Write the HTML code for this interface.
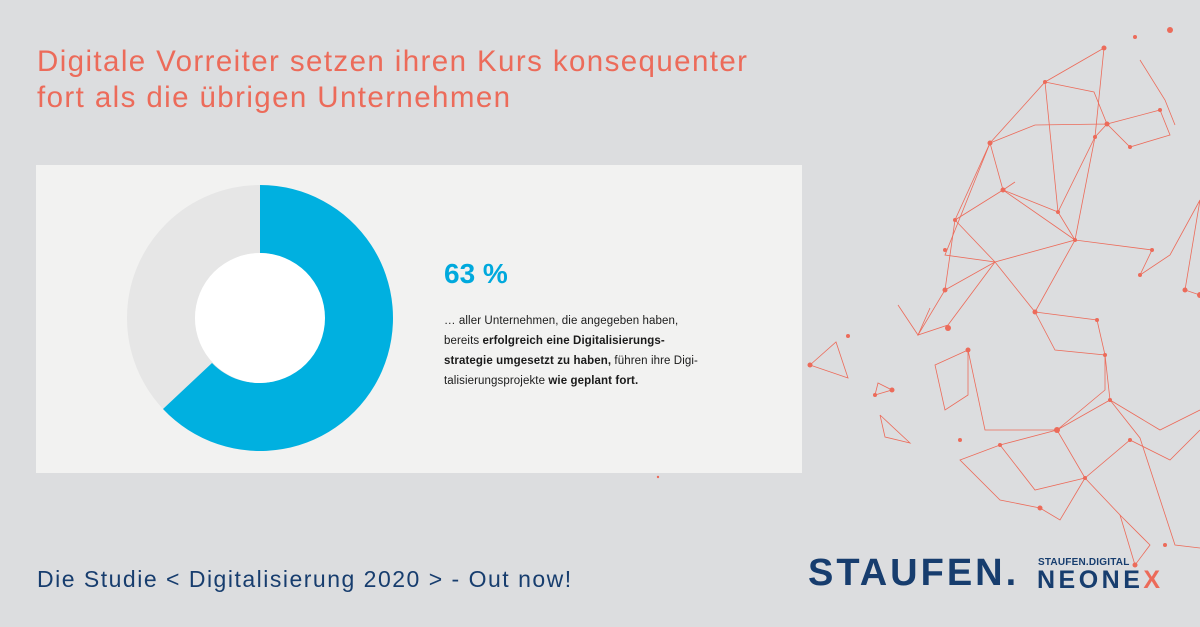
<!DOCTYPE html>
<html><head><meta charset="utf-8"><style>
body{margin:0;width:1200px;height:627px;background:#dcdddf;position:relative;overflow:hidden;font-family:"Liberation Sans","DejaVu Sans",sans-serif}
.t{position:absolute;left:37px;top:44px;color:#ec6b5a;font-size:29.5px;line-height:36px;letter-spacing:1.4px}
.panel{position:absolute;left:36px;top:165px;width:766px;height:308px;background:#f2f2f1}
.pct{position:absolute;left:444px;top:258px;color:#00a9dd;font-size:28px;font-weight:bold}
.txt{position:absolute;left:444px;top:311px;font-size:11.5px;line-height:20px;color:#1a1a1a;letter-spacing:0.1px}
.foot{position:absolute;left:37px;top:566px;color:#173d6e;font-size:23px;letter-spacing:1.5px}
.st{position:absolute;left:808px;top:552px;color:#173d6e;font-size:38px;font-weight:bold;letter-spacing:3px}
.sd{position:absolute;left:1038px;top:557px;color:#173d6e;font-size:10px;font-weight:bold;letter-spacing:0.2px}
.ne{position:absolute;left:1037px;top:566px;color:#173d6e;font-size:25px;font-weight:bold;letter-spacing:3.5px}
</style></head><body>
<svg width="1200" height="627" style="position:absolute;left:0;top:0" stroke="#ec6b5a" stroke-width="0.8" fill="#ec6b5a">
<g fill="none">
<polyline points="1104,48 1045,82 990,143 955,220 945,290 918,335 948,325 995,262 1075,240 1095,137 1104,48"/>
<polyline points="1045,82 1094,92 1107,124 1160,110 1170,135 1130,147 1107,124 1095,137 1058,212 1003,190 990,143 1035,125 1107,124"/>
<polyline points="1003,190 955,220 995,262 1035,312 1075,240 1152,250 1140,275 1170,255 1200,200 1185,290 1200,295"/>
<polyline points="1035,312 1055,350 1105,355 1105,390 1057,430 1000,445 1035,490 1085,478 1130,440 1170,460 1200,430"/>
<polyline points="1035,312 1097,320 1105,355 1110,400 1140,438 1175,545 1200,548"/>
<polyline points="968,350 935,365 945,410 968,395 968,350 985,430 1057,430 1085,478 1120,515 1135,565"/>
<polyline points="810,365 848,378 836,342 810,365"/><polyline points="880,415 910,443 885,437 880,415"/>
<polyline points="875,395 892,390 878,383 875,395"/><polyline points="898,305 918,335 930,308"/>
<polyline points="1045,82 1058,212 1075,240 1003,190 1015,182"/>
<polyline points="990,143 945,255 995,262 945,290"/><polyline points="1140,60 1165,100 1175,125"/>
<polyline points="1057,430 1110,400 1160,430 1200,410"/><polyline points="1000,445 960,460 1000,500 1040,508"/>
<polyline points="1085,478 1060,520 1040,508"/><polyline points="1120,515 1150,545 1135,565"/>
</g>
<g stroke="none">
<circle cx="1104" cy="48" r="2.5"/><circle cx="1045" cy="82" r="2"/><circle cx="990" cy="143" r="2.5"/><circle cx="1107" cy="124" r="2.5"/><circle cx="1095" cy="137" r="2"/><circle cx="1003" cy="190" r="2.5"/><circle cx="1058" cy="212" r="2"/><circle cx="1075" cy="240" r="2"/><circle cx="1152" cy="250" r="2"/><circle cx="1140" cy="275" r="2"/><circle cx="1185" cy="290" r="2.5"/><circle cx="1035" cy="312" r="2.5"/><circle cx="1097" cy="320" r="2"/><circle cx="1105" cy="355" r="2"/><circle cx="1057" cy="430" r="3"/><circle cx="1085" cy="478" r="2"/><circle cx="1000" cy="445" r="2"/><circle cx="948" cy="328" r="3"/><circle cx="945" cy="290" r="2.5"/><circle cx="968" cy="350" r="2.5"/><circle cx="810" cy="365" r="2.5"/><circle cx="848" cy="336" r="2"/><circle cx="892" cy="390" r="2.5"/><circle cx="875" cy="395" r="2"/><circle cx="960" cy="440" r="2"/><circle cx="1040" cy="508" r="2.5"/><circle cx="1135" cy="565" r="2.5"/><circle cx="1170" cy="30" r="3"/><circle cx="1135" cy="37" r="2"/><circle cx="1165" cy="545" r="2"/><circle cx="1200" cy="295" r="3"/><circle cx="1130" cy="147" r="2"/><circle cx="1160" cy="110" r="2"/><circle cx="1110" cy="400" r="2"/><circle cx="1130" cy="440" r="2"/><circle cx="955" cy="220" r="2"/><circle cx="945" cy="250" r="2"/><circle cx="658" cy="477" r="1.2"/>
</g></svg>
<div class="t">Digitale Vorreiter setzen ihren Kurs konsequenter<br>fort als die übrigen Unternehmen</div>
<div class="panel"></div>
<svg width="1200" height="627" style="position:absolute;left:0;top:0">
<circle cx="260" cy="318" r="99" fill="none" stroke="#e6e6e6" stroke-width="68"/>
<path d="M260,185 A133,133 0 1 1 163,409 L212,363 A65,65 0 1 0 260,253 Z" fill="#00b0e0"/>
<circle cx="260" cy="318" r="65" fill="#fff"/>
</svg>
<div class="pct">63 %</div>
<div class="txt">… aller Unternehmen, die angegeben haben,<br>bereits <b>erfolgreich eine Digitalisierungs-<br>strategie umgesetzt zu haben,</b> führen ihre Digi-<br>talisierungsprojekte <b>wie geplant fort.</b></div>
<div class="foot">Die Studie &lt; Digitalisierung 2020 &gt; - Out now!</div>
<div class="st">STAUFEN.</div>
<div class="sd">STAUFEN.DIGITAL</div>
<div class="ne">NEONE<span style="color:#ec6b5a">X</span></div>
</body></html>
